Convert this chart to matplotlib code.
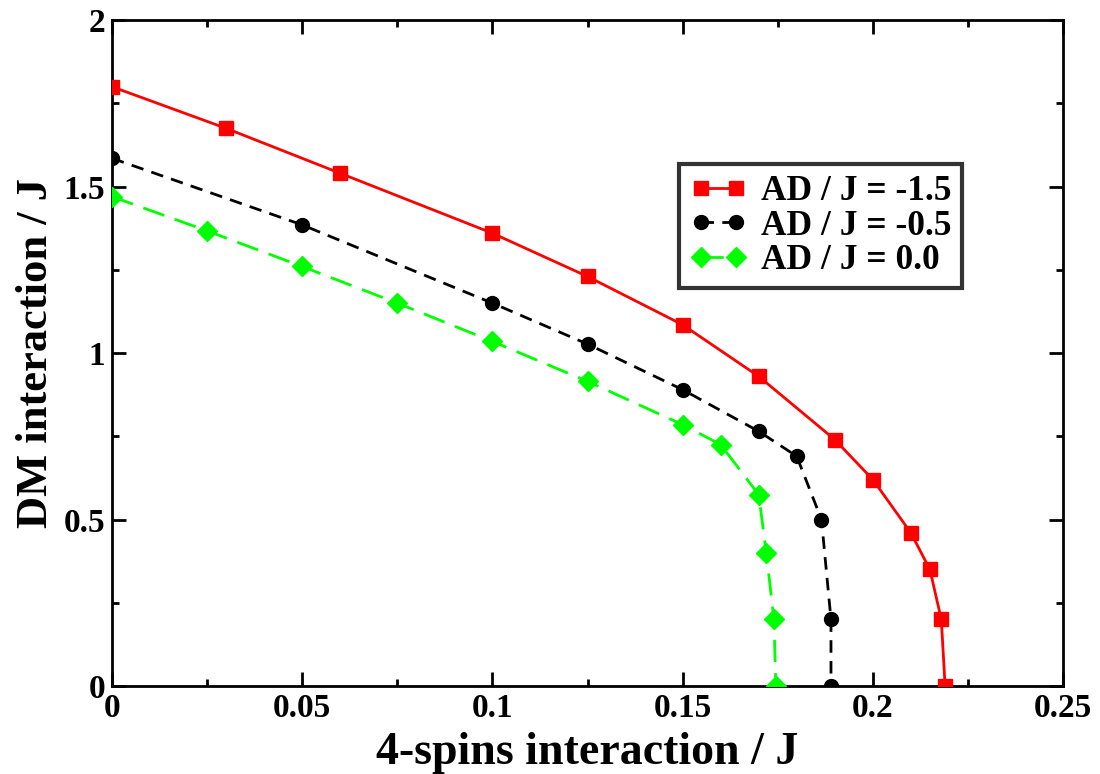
import matplotlib
matplotlib.use("Agg")
import matplotlib.pyplot as plt
from matplotlib.ticker import MultipleLocator, FuncFormatter

# Data
x_red = [0.0, 0.03, 0.06, 0.1, 0.125, 0.15, 0.17, 0.19, 0.2, 0.21, 0.215, 0.218, 0.219]
y_red = [1.80, 1.675, 1.54, 1.36, 1.23, 1.085, 0.93, 0.74, 0.62, 0.46, 0.35, 0.20, 0.0]

x_black = [0.0, 0.05, 0.1, 0.125, 0.15, 0.17, 0.18, 0.1865, 0.189, 0.189]
y_black = [1.585, 1.385, 1.15, 1.027, 0.89, 0.765, 0.69, 0.50, 0.20, 0.0]

x_green = [0.0, 0.025, 0.05, 0.075, 0.1, 0.125, 0.15, 0.16, 0.17, 0.172, 0.174, 0.1745]
y_green = [1.47, 1.367, 1.26, 1.15, 1.035, 0.915, 0.785, 0.725, 0.575, 0.40, 0.20, 0.0]

labels = ["AD / J = -1.5", "AD / J = -0.5", "AD / J = 0.0"]

plt.rcParams['font.family'] = ['Liberation Serif', 'DejaVu Serif']
plt.rcParams['font.weight'] = 'bold'

fig = plt.figure(figsize=(11, 7.74), dpi=100)
ax = fig.add_axes([0.1018, 0.1137, 0.8646, 0.8603])

ax.plot(x_red, y_red, color='#ff0000', lw=2, ls='-', marker='s', ms=10.5,
        label=labels[0], zorder=3)
ax.plot(x_black, y_black, color='black', lw=2, ls=(0, (4.5, 3)), marker='o', ms=10,
        label=labels[1], zorder=3)
ax.plot(x_green, y_green, color='#00ff00', lw=2, ls=(0, (8, 4)), marker='D', ms=10.5,
        label=labels[2], zorder=3)

ax.set_xlim(0, 0.25)
ax.set_ylim(0, 2)
ax.xaxis.set_major_locator(MultipleLocator(0.05))
ax.xaxis.set_minor_locator(MultipleLocator(0.025))
ax.yaxis.set_major_locator(MultipleLocator(0.5))
ax.yaxis.set_minor_locator(MultipleLocator(0.25))
fmt = FuncFormatter(lambda v, p: "%g" % round(v, 4))
ax.xaxis.set_major_formatter(fmt)
ax.yaxis.set_major_formatter(fmt)

ax.tick_params(which='both', direction='in', top=True, right=True, width=2, labelsize=24)
ax.tick_params(which='major', length=10, pad=5)
ax.tick_params(which='minor', length=5)
for s in ax.spines.values():
    s.set_linewidth(2)

ax.set_xlabel("4-spins interaction / J", fontsize=33, fontweight='bold', labelpad=6)
ax.set_ylabel("DM interaction / J", fontsize=32, fontweight='bold', labelpad=5)

leg = ax.legend(loc='upper left', bbox_to_anchor=(0.5965, 0.7835), numpoints=2,
                fontsize=25.5, frameon=True, fancybox=False, handlelength=1.6,
                handletextpad=0.4, borderpad=0.3, labelspacing=0.05, borderaxespad=0)
leg.get_frame().set_edgecolor('black')
leg.get_frame().set_linewidth(3)

fig.savefig("out.png", dpi=100)
